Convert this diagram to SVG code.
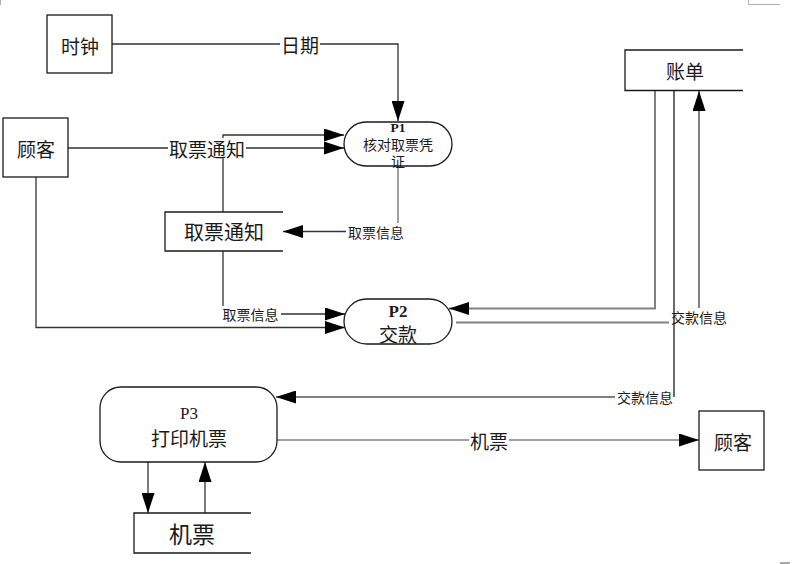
<svg xmlns="http://www.w3.org/2000/svg" width="794" height="564" viewBox="0 0 794 564">
<style>
.box{fill:#fff;stroke:#1a1a1a;stroke-width:1.3}
.store{fill:none;stroke:#1a1a1a;stroke-width:1.3}
.t{font-family:"Noto Sans CJK SC","Liberation Sans",sans-serif;fill:#1a1a1a;text-anchor:middle;dominant-baseline:central}
.tc{font-family:"Liberation Sans","Noto Sans CJK SC",sans-serif;fill:#1a1a1a;text-anchor:middle;dominant-baseline:central}
.big{font-size:19px}
.sm{font-size:14px}
.p{font-family:"Liberation Serif",serif;font-weight:bold;fill:#1a1a1a;text-anchor:middle;dominant-baseline:central}
.dk{fill:none;stroke:#333;stroke-width:1.3}
.gr{fill:none;stroke:#808080;stroke-width:2}
.lbl{fill:#fff;stroke:none}
</style>
<defs>
<marker id="ah" markerUnits="userSpaceOnUse" markerWidth="20" markerHeight="13" refX="20" refY="6.5" orient="auto">
<path d="M0,0 L20,6.5 L0,13 z" fill="#000"/>
</marker>
</defs>
<rect width="794" height="564" fill="#fff"/>
<g id="page-marks" stroke="#b0b0b0" stroke-width="1" fill="none">
<path d="M0.5,0 V5"/>
<path d="M748.5,0 V4.5 H780"/>
<path d="M780,563 H790" stroke="#555"/>
</g>
<g id="connectors">
<path class="dk" d="M112,44 H398 V121" marker-end="url(#ah)"/>
<path class="dk" d="M68,148 H344" marker-end="url(#ah)"/>
<path class="dk" d="M223,212 V135 H344" marker-end="url(#ah)"/>
<path class="gr" style="stroke-width:1.5" d="M398,166 V231.5"/>
<path class="dk" d="M398,231.5 H283" marker-end="url(#ah)"/>
<path class="dk" d="M223,251 V314 H345" marker-end="url(#ah)"/>
<path class="dk" d="M36,177 V327.5 H345" marker-end="url(#ah)"/>
<path class="gr" d="M655,90 V308.5 H449" marker-end="url(#ah)"/>
<path class="gr" d="M456,322.5 H699 V91" marker-end="url(#ah)"/>
<path class="gr" d="M615,397 H276" marker-end="url(#ah)"/>
<path class="gr" style="stroke-width:1.6" d="M277,440 H699" marker-end="url(#ah)"/>
<path class="dk" d="M148,462 V513" marker-end="url(#ah)"/>
<path class="dk" d="M205,513 V462" marker-end="url(#ah)"/>
<rect class="lbl" x="280" y="34" width="40" height="20"/>
<text class="t big" x="300" y="44">日期</text>
<rect class="lbl" x="168" y="138" width="78" height="20"/>
<text class="t big" x="207" y="148">取票通知</text>
<rect class="lbl" x="346" y="223" width="60" height="17"/>
<text class="t sm" x="376" y="231.5">取票信息</text>
<rect class="lbl" x="220" y="306" width="61" height="16"/>
<text class="t sm" x="250.5" y="314">取票信息</text>
<rect class="lbl" x="669" y="308" width="60" height="17"/>
<text class="t sm" x="699" y="316.5">交款信息</text>
<rect class="lbl" x="615" y="389" width="59" height="16"/>
<text class="t sm" x="645" y="397">交款信息</text>
<rect class="lbl" x="469" y="430" width="40" height="20"/>
<text class="t big" x="489" y="440">机票</text>
<path d="M674,90 V397" stroke="#1a1a1a" stroke-width="1.3" fill="none"/>
</g>
<g id="clock">
<rect class="box" x="47" y="15" width="65" height="58"/>
<text class="t big" x="80" y="45">时钟</text>
</g>
<g id="customer1">
<rect class="box" x="3" y="118" width="65" height="59"/>
<text class="t big" x="36" y="148">顾客</text>
</g>
<g id="p1">
<rect class="box" x="344" y="122" width="108" height="44" rx="22" ry="22"/>
<text class="p" style="font-size:13.5px" x="398" y="127.5">P1</text>
<text class="tc" style="font-size:14px" x="398" y="144.5">核对取票凭</text>
<text class="tc" style="font-size:14px" x="398" y="161.5">证</text>
</g>
<g id="store-notice">
<path class="store" d="M283,212 H165 V251 H283"/>
<text class="t" style="font-size:20px" x="224" y="231">取票通知</text>
</g>
<g id="p2">
<rect class="box" x="344" y="299" width="108" height="45" rx="22.5" ry="22.5"/>
<text class="p" style="font-size:17px" x="398" y="311">P2</text>
<text class="t big" x="398" y="333">交款</text>
</g>
<g id="store-bill">
<path class="store" d="M743,50 H625 V90.5 H743"/>
<text class="t big" x="685" y="70">账单</text>
</g>
<g id="p3">
<rect class="box" x="100" y="387" width="177" height="75" rx="21" ry="21"/>
<text class="p" style="font-size:17px;font-weight:normal" x="189" y="413">P3</text>
<text class="t big" x="189" y="437">打印机票</text>
</g>
<g id="customer2">
<rect class="box" x="699" y="411" width="65" height="59"/>
<text class="t big" x="733" y="441">顾客</text>
</g>
<g id="store-ticket">
<path class="store" d="M251,513 H134 V553 H251"/>
<text class="t" style="font-size:23px" x="192" y="533">机票</text>
</g>
</svg>
